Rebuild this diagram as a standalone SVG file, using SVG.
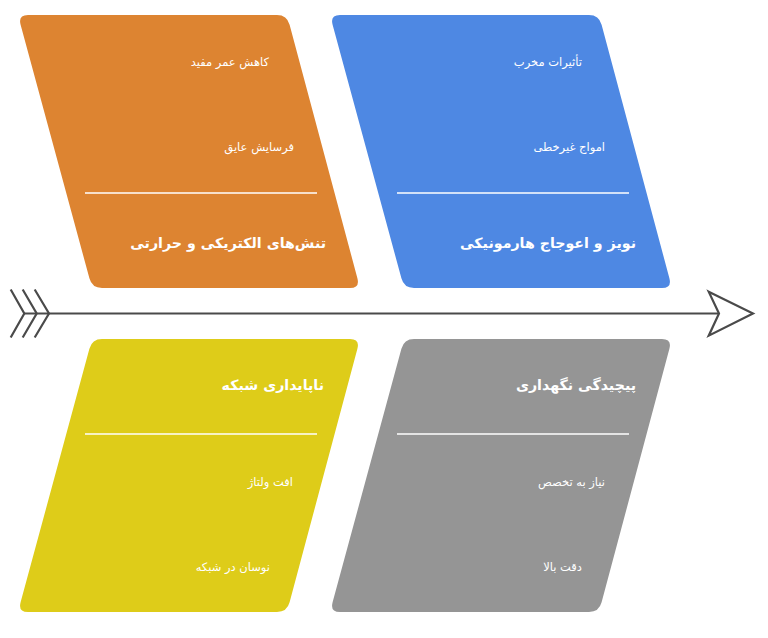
<svg xmlns="http://www.w3.org/2000/svg" width="768" height="638" viewBox="0 0 768 638">
<style>
.sub{font-family:"DejaVu Sans","Noto Sans",sans-serif;font-size:11.5px;fill:#ffffff;text-anchor:end}
.ttl{font-family:"DejaVu Sans","Noto Sans",sans-serif;font-size:14.2px;font-weight:bold;fill:#ffffff;text-anchor:end}
.sep{stroke:#ffffff;stroke-width:1.5}
.spine{stroke:#4a4a4a;stroke-width:2.2;fill:none}
</style>
<defs>
<path id="para" d="M28,15 L277,15 Q287,15 289.6,24.7 L357.4,278.3 Q360,288 350,288 L102,288 Q92,288 89.4,278.3 L20.6,24.7 Q18,15 28,15 Z"/>
</defs>
<rect width="768" height="638" fill="#ffffff"/>
<g id="connectors">
<line class="spine" x1="24" y1="313.5" x2="719" y2="313.5"/>
<polyline class="spine" points="10.7,289.5 24.3,313.5 10.7,337.5"/>
<polyline class="spine" points="22.7,289.5 36.7,313.5 22.7,337.5"/>
<polyline class="spine" points="34.7,289.5 49,313.5 34.7,337.5"/>
<polygon points="708.7,291.7 753,313.5 708.7,335.7 719,313.5" fill="#ffffff" stroke="#4a4a4a" stroke-width="2.2" stroke-linejoin="miter"/>
</g>
<g id="node-electric">
<use href="#para" fill="#DD8431"/>
<line class="sep" x1="85" y1="193" x2="317" y2="193"/>
<text class="sub" x="269" y="66">کاهش عمر مفید</text>
<text class="sub" x="294" y="151">فرسایش عایق</text>
<text class="ttl" x="326" y="248">تنش‌های الکتریکی و حرارتی</text>
</g>
<g id="node-noise">
<use href="#para" fill="#4E88E3" transform="translate(312,0)"/>
<line class="sep" x1="397" y1="193" x2="629" y2="193"/>
<text class="sub" x="582" y="66">تأثیرات مخرب</text>
<text class="sub" x="605" y="151">امواج غیرخطی</text>
<text class="ttl" x="636" y="248">نویز و اعوجاج هارمونیکی</text>
</g>
<g id="node-instability">
<use href="#para" fill="#DECC19" transform="translate(0,627) scale(1,-1)"/>
<line class="sep" x1="85" y1="434" x2="317" y2="434"/>
<text class="ttl" x="324" y="390">ناپایداری شبکه</text>
<text class="sub" x="293" y="486">افت ولتاژ</text>
<text class="sub" x="270" y="571">نوسان در شبکه</text>
</g>
<g id="node-maintenance">
<use href="#para" fill="#959595" transform="translate(312,627) scale(1,-1)"/>
<line class="sep" x1="397" y1="434" x2="629" y2="434"/>
<text class="ttl" x="636" y="390">پیچیدگی نگهداری</text>
<text class="sub" x="605" y="486">نیاز به تخصص</text>
<text class="sub" x="582" y="571">دقت بالا</text>
</g>
</svg>
